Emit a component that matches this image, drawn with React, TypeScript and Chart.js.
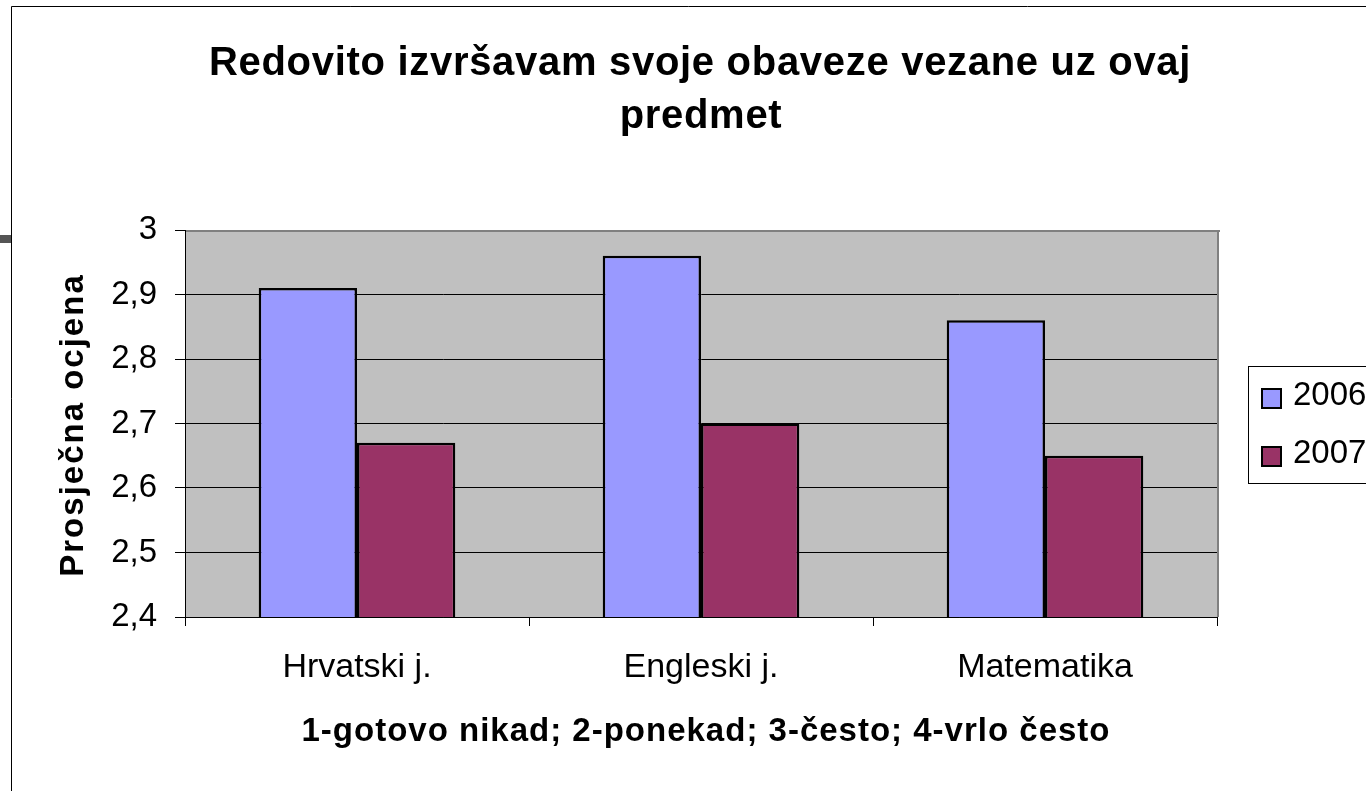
import { useEffect, useRef } from 'react';
import { Chart, registerables } from 'chart.js';

Chart.register(...registerables);

const categories = ['Hrvatski j.', 'Engleski j.', 'Matematika'];
const seriesNames = ['2006', '2007'];
const values2006 = [2.91, 2.96, 2.86];
const values2007 = [2.67, 2.7, 2.65];
const yTicks = [2.4, 2.5, 2.6, 2.7, 2.8, 2.9, 3];
const titleLines = ['Redovito izvršavam svoje obaveze vezane uz ovaj', 'predmet'];
const yTitle = 'Prosječna ocjena';
const xTitle = '1-gotovo nikad; 2-ponekad; 3-često; 4-vrlo često';
const seriesColors = ['#9999FF', '#993366'];

const FONT = "'Liberation Sans', Arial, sans-serif";
const W = 1366;
const H = 791;

const decorPlugin = {
  id: 'decor',
  beforeDraw(chart: any) {
    const { ctx, chartArea: a, width, height } = chart;
    ctx.save();
    ctx.fillStyle = '#ffffff';
    ctx.fillRect(0, 0, width, height);
    // outer chart frame
    ctx.strokeStyle = '#000000';
    ctx.lineWidth = 1;
    ctx.beginPath();
    ctx.moveTo(11.5, height);
    ctx.lineTo(11.5, 6.5);
    ctx.lineTo(width, 6.5);
    ctx.stroke();
    // small mark at left edge
    ctx.fillStyle = '#555555';
    ctx.fillRect(0, 235, 11, 8);
    // plot area background
    ctx.fillStyle = '#C0C0C0';
    ctx.fillRect(a.left, a.top, a.right - a.left, a.bottom - a.top);
    ctx.restore();
  },
  afterDraw(chart: any) {
    const { ctx, chartArea: a } = chart;
    ctx.save();
    // plot area border (top, right)
    ctx.fillStyle = '#808080';
    ctx.fillRect(a.left + 1, a.top, a.right - a.left + 2, 2);
    ctx.fillRect(a.right, a.top, 2, a.bottom - a.top);

    ctx.fillStyle = '#000000';
    // title
    ctx.font = `bold 40px ${FONT}`;
    ctx.textAlign = 'center';
    ctx.textBaseline = 'alphabetic';
    (ctx as any).letterSpacing = '0.7px';
    ctx.fillText(titleLines[0], 700, 75);
    ctx.fillText(titleLines[1], 701, 128);

    // x axis title
    ctx.font = `bold 33px ${FONT}`;
    (ctx as any).letterSpacing = '1px';
    ctx.fillText(xTitle, 706, 741);

    // y axis title
    ctx.save();
    ctx.translate(83, 425);
    ctx.rotate(-Math.PI / 2);
    (ctx as any).letterSpacing = '2px';
    ctx.fillText(yTitle, 0, 0);
    ctx.restore();

    // legend
    (ctx as any).letterSpacing = '0px';
    ctx.strokeStyle = '#000000';
    ctx.lineWidth = 1;
    ctx.strokeRect(1248.5, 366.5, 200, 117);
    const ys = [388, 446];
    chart.data.datasets.forEach((ds: any, i: number) => {
      const y = ys[i];
      ctx.fillStyle = ds.backgroundColor;
      ctx.fillRect(1261, y, 21, 21);
      ctx.lineWidth = 2;
      ctx.strokeStyle = '#000000';
      ctx.strokeRect(1262, y + 1, 19, 19);
      ctx.fillStyle = '#000000';
      ctx.font = `33px ${FONT}`;
      ctx.textAlign = 'left';
      ctx.textBaseline = 'alphabetic';
      ctx.fillText(ds.label, 1293, y + 17);
    });
    ctx.restore();
  },
};

export default function App() {
  const canvasRef = useRef<HTMLCanvasElement | null>(null);

  useEffect(() => {
    const canvas = canvasRef.current;
    if (!canvas) return;
    const chart = new Chart(canvas, {
      type: 'bar',
      data: {
        labels: categories,
        datasets: [
          {
            label: seriesNames[0],
            data: values2006,
            backgroundColor: seriesColors[0],
            borderColor: '#000000',
            borderWidth: 2.5,
          },
          {
            label: seriesNames[1],
            data: values2007,
            backgroundColor: seriesColors[1],
            borderColor: '#000000',
            borderWidth: 2.5,
          },
        ],
      },
      options: {
        responsive: false,
        animation: false,
        devicePixelRatio: 1,
        categoryPercentage: 2 / 3.5,
        barPercentage: 1,
        layout: { padding: { top: 230, right: 149, left: 0, bottom: 0 } },
        plugins: {
          legend: { display: false },
          title: { display: false },
          tooltip: { enabled: false },
        },
        scales: {
          x: {
            offset: true,
            afterFit: (s: any) => {
              s.height = 174;
            },
            grid: {
              offset: true,
              drawOnChartArea: false,
              drawTicks: true,
              tickLength: 9,
              color: '#000000',
              tickColor: '#000000',
            },
            border: { display: true, color: '#000000', width: 1 },
            ticks: {
              color: '#000000',
              font: { family: FONT, size: 34 },
              padding: 21,
              maxRotation: 0,
            },
          },
          y: {
            min: yTicks[0],
            max: yTicks[yTicks.length - 1],
            afterBuildTicks: (s: any) => {
              s.ticks = yTicks.map((v) => ({ value: v }));
            },
            afterFit: (s: any) => {
              s.width = 185;
            },
            grid: {
              color: (c: any) =>
                c.tick && c.tick.value === yTicks[yTicks.length - 1] ? 'rgba(0,0,0,0)' : '#000000',
              tickColor: '#000000',
              tickLength: 10,
              lineWidth: 1,
            },
            border: { display: true, color: '#000000', width: 1 },
            ticks: {
              color: '#000000',
              font: { family: FONT, size: 33 },
              padding: 18,
              callback: (v: any) => (Math.round(Number(v) * 10) / 10).toString().replace('.', ','),
            },
          },
        },
      },
      plugins: [decorPlugin],
    });
    return () => chart.destroy();
  }, []);

  return (
    <div style={{ position: 'absolute', left: 0, top: 0, width: W, height: H, background: '#fff' }}>
      <canvas ref={canvasRef} width={W} height={H} style={{ display: 'block', width: W, height: H }} />
    </div>
  );
}
